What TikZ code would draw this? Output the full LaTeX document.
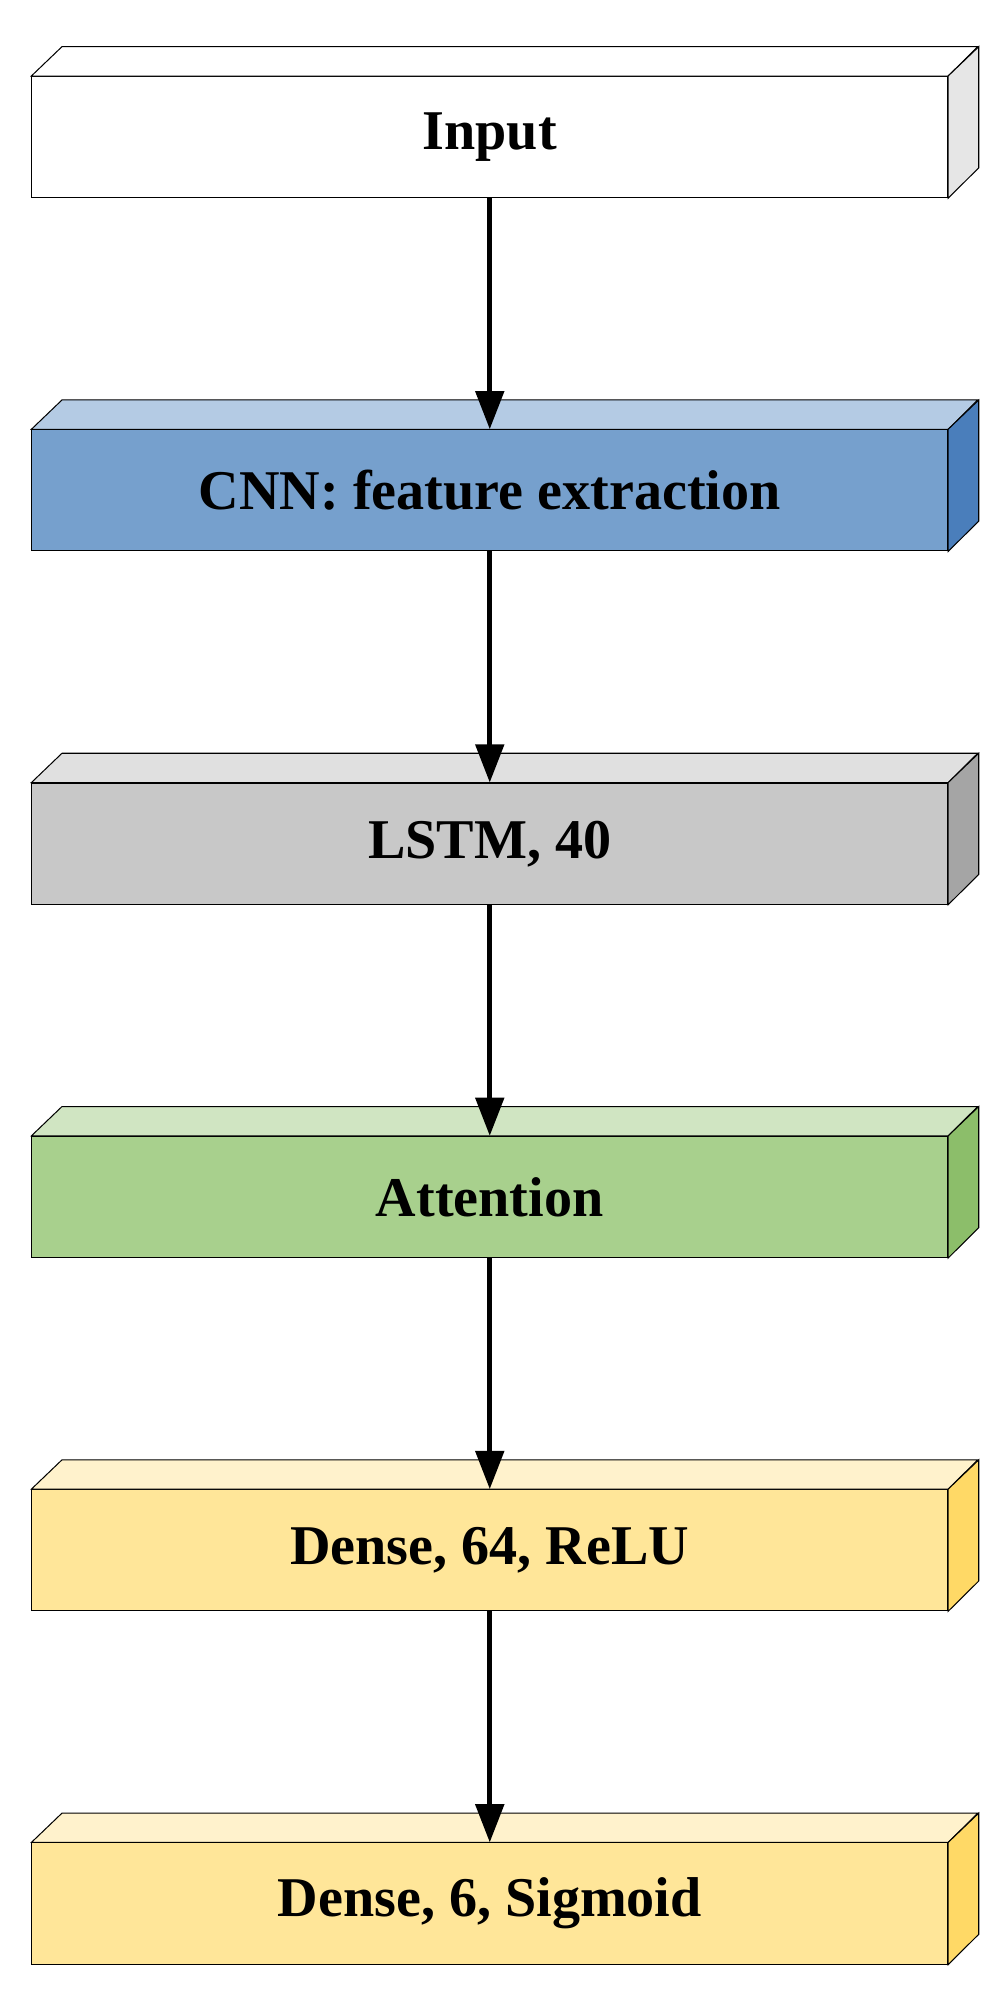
\documentclass[tikz,border=0pt]{standalone}
\usepackage{fontspec}
\setmainfont{Liberation Serif}
\usetikzlibrary{arrows.meta}
\definecolor{inF}{HTML}{FFFFFF}\definecolor{inT}{HTML}{FFFFFF}\definecolor{inS}{HTML}{E6E6E6}
\definecolor{cnF}{HTML}{76A0CD}\definecolor{cnT}{HTML}{B4CBE4}\definecolor{cnS}{HTML}{4A7EBB}
\definecolor{lsF}{HTML}{C8C8C8}\definecolor{lsT}{HTML}{E0E0E0}\definecolor{lsS}{HTML}{A5A5A5}
\definecolor{atF}{HTML}{A8D08D}\definecolor{atT}{HTML}{D0E5C2}\definecolor{atS}{HTML}{8CBE6A}
\definecolor{dnF}{HTML}{FFE699}\definecolor{dnT}{HTML}{FFF2CC}\definecolor{dnS}{HTML}{FFD966}
\tikzset{
  layer/.style={draw=black, line width=0.8pt, minimum width=718pt, minimum height=95pt,
    inner sep=0pt, font=\fontsize{44}{50}\selectfont\bfseries},
  conn/.style={line width=4pt, -{Triangle[length=30pt,width=22pt]}}
}
\begin{document}
\begin{tikzpicture}[x=1pt,y=1pt]
\useasboundingbox (0,0) rectangle (790,-1565);
\foreach \n/\y/\c/\t in {in/107.5/in/Input, cnn/384.5/cn/{CNN: feature extraction}, lstm/661.5/ls/{LSTM, 40}, att/938.5/at/Attention, d1/1215.5/dn/{Dense, 64, ReLU}, d2/1492.5/dn/{Dense, 6, Sigmoid}}{
  \node[layer, fill=\c F] (\n) at (384,-\y) {\t};
  \draw[line width=0.8pt, fill=\c T] (\n.north west) -- ++(24,23) -- ++(718,0) -- (\n.north east) -- cycle;
  \draw[line width=0.8pt, fill=\c S] (\n.north east) -- ++(24,23) -- ++(0,-95) -- (\n.south east) -- cycle;
}
\draw[conn] (in.south) -- (cnn.north);
\draw[conn] (cnn.south) -- (lstm.north);
\draw[conn] (lstm.south) -- (att.north);
\draw[conn] (att.south) -- (d1.north);
\draw[conn] (d1.south) -- (d2.north);
\end{tikzpicture}
\end{document}
